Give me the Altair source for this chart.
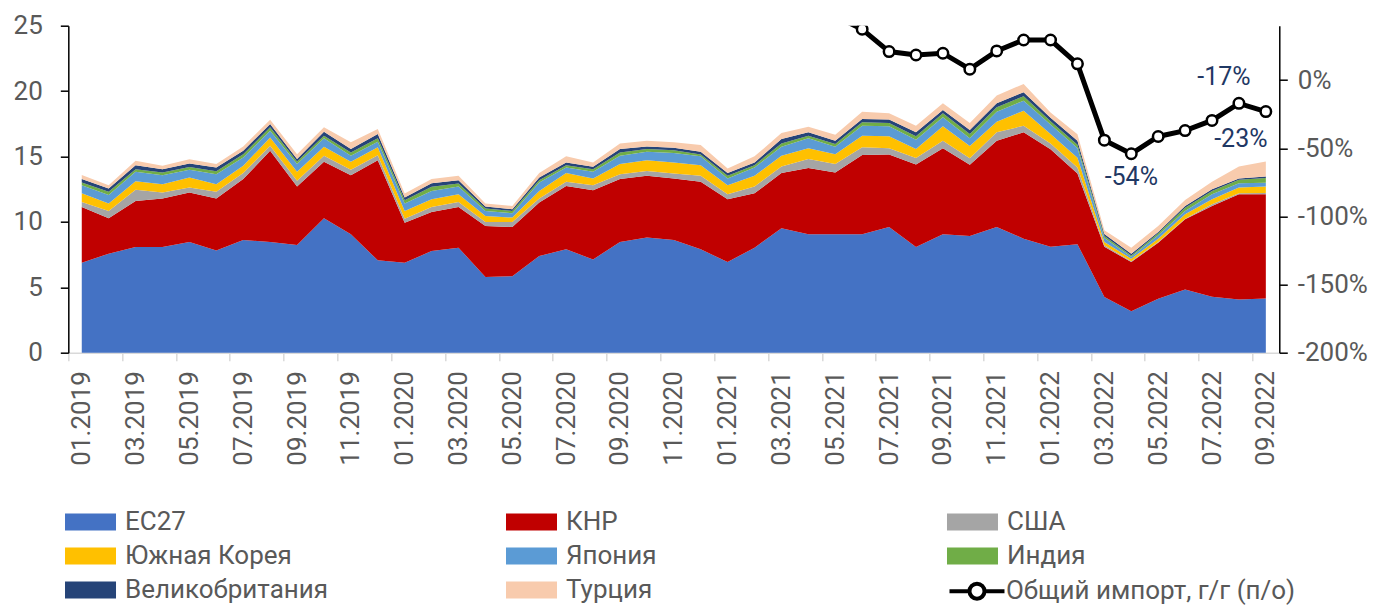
import altair as alt
import pandas as pd

MONTHS = ["01.2019", "02.2019", "03.2019", "04.2019", "05.2019", "06.2019", "07.2019", "08.2019",
          "09.2019", "10.2019", "11.2019", "12.2019", "01.2020", "02.2020", "03.2020", "04.2020",
          "05.2020", "06.2020", "07.2020", "08.2020", "09.2020", "10.2020", "11.2020", "12.2020",
          "01.2021", "02.2021", "03.2021", "04.2021", "05.2021", "06.2021", "07.2021", "08.2021",
          "09.2021", "10.2021", "11.2021", "12.2021", "01.2022", "02.2022", "03.2022", "04.2022",
          "05.2022", "06.2022", "07.2022", "08.2022", "09.2022"]

SERIES = ["ЕС27", "КНР", "США", "Южная Корея", "Япония", "Индия", "Великобритания", "Турция"]
COLORS = ["#4472C4", "#C00000", "#A5A5A5", "#FFC000", "#5B9BD5", "#70AD47", "#264478", "#F8CBAD"]

EU = [6.88, 7.57, 8.08, 8.08, 8.46, 7.82, 8.61, 8.46, 8.23, 10.28, 9.05, 7.06, 6.88, 7.77, 8.03,
      5.78, 5.85, 7.39, 7.90, 7.13, 8.46, 8.80, 8.61, 7.90, 6.93, 8.03, 9.51, 9.05, 9.05, 9.05,
      9.61, 8.08, 9.05, 8.92, 9.61, 8.72, 8.10, 8.30, 4.25, 3.17, 4.12, 4.83, 4.27, 4.06, 4.14]
CN = [4.26, 2.71, 3.52, 3.70, 3.79, 3.96, 4.66, 6.98, 4.47, 4.31, 4.52, 7.66, 3.06, 2.99, 3.11,
      3.91, 3.76, 4.09, 4.85, 5.29, 4.81, 4.72, 4.71, 5.16, 4.80, 4.16, 4.22, 5.08, 4.73, 6.06,
      5.55, 6.31, 6.59, 5.44, 6.59, 8.13, 7.45, 5.40, 3.85, 3.76, 4.29, 5.37, 6.95, 8.06, 7.98]
US = [0.39, 0.56, 0.85, 0.47, 0.38, 0.52, 0.46, 0.38, 0.44, 0.46, 0.41, 0.38, 0.31, 0.38, 0.39,
      0.30, 0.38, 0.30, 0.31, 0.39, 0.38, 0.38, 0.38, 0.46, 0.39, 0.52, 0.51, 0.67, 0.64, 0.59,
      0.48, 0.49, 0.57, 0.51, 0.65, 0.50, 0.45, 0.45, 0.12, 0.07, 0.05, 0.05, 0.13, 0.07, 0.08]
KR = [0.66, 0.56, 0.66, 0.63, 0.77, 0.58, 0.56, 0.64, 0.69, 0.69, 0.61, 0.60, 0.59, 0.59, 0.59,
      0.46, 0.34, 0.59, 0.67, 0.51, 0.77, 0.82, 0.85, 0.82, 0.69, 0.81, 0.81, 0.84, 0.76, 0.89,
      0.90, 0.69, 1.10, 0.93, 0.81, 1.15, 0.72, 0.75, 0.25, 0.18, 0.26, 0.33, 0.38, 0.44, 0.50]
JP = [0.61, 0.66, 0.72, 0.69, 0.58, 0.77, 0.64, 0.51, 0.59, 0.65, 0.46, 0.43, 0.56, 0.64, 0.58,
      0.39, 0.33, 0.64, 0.43, 0.51, 0.63, 0.64, 0.71, 0.67, 0.51, 0.64, 0.70, 0.75, 0.57, 0.77,
      0.77, 0.71, 0.69, 0.59, 0.77, 0.77, 0.72, 0.75, 0.30, 0.15, 0.25, 0.26, 0.39, 0.33, 0.30]
IN = [0.21, 0.24, 0.20, 0.21, 0.21, 0.23, 0.25, 0.26, 0.20, 0.20, 0.26, 0.26, 0.26, 0.31, 0.24,
      0.18, 0.18, 0.18, 0.18, 0.20, 0.26, 0.21, 0.21, 0.15, 0.20, 0.18, 0.25, 0.20, 0.20, 0.25,
      0.25, 0.26, 0.30, 0.33, 0.33, 0.34, 0.26, 0.25, 0.15, 0.10, 0.16, 0.25, 0.25, 0.26, 0.35]
UK = [0.27, 0.25, 0.31, 0.25, 0.28, 0.28, 0.26, 0.25, 0.18, 0.31, 0.26, 0.33, 0.20, 0.28, 0.25,
      0.15, 0.13, 0.21, 0.21, 0.18, 0.26, 0.20, 0.20, 0.20, 0.21, 0.21, 0.33, 0.26, 0.26, 0.26,
      0.26, 0.31, 0.26, 0.30, 0.31, 0.31, 0.26, 0.30, 0.15, 0.13, 0.10, 0.13, 0.13, 0.10, 0.12]
TR = [0.30, 0.25, 0.33, 0.26, 0.31, 0.26, 0.33, 0.33, 0.38, 0.33, 0.51, 0.38, 0.31, 0.31, 0.33,
      0.23, 0.25, 0.33, 0.46, 0.34, 0.43, 0.43, 0.41, 0.51, 0.36, 0.46, 0.46, 0.43, 0.45, 0.56,
      0.48, 0.51, 0.51, 0.55, 0.59, 0.63, 0.41, 0.50, 0.30, 0.47, 0.46, 0.46, 0.56, 0.92, 1.15]

LINE_NAME = "Общий импорт, г/г (п/о)"
LINE_START = 28  # index of 05.2021
LINE_VALUES = [47.0, 37.4, 21.0, 18.5, 19.8, 8.1, 21.5, 29.5, 29.5, 12.0,
               -44.0, -54.0, -41.3, -37.0, -29.5, -17.0, -23.0]

LABEL_IDX = [39, 43, 44]
LABEL_TEXT = ["-54%", "-17%", "-23%"]

LEFT_TICKS = [0, 5, 10, 15, 20, 25]
RIGHT_TICKS = [-200, -150, -100, -50, 0]

# ---------------- data frames ----------------
all_vals = [EU, CN, US, KR, JP, IN, UK, TR]
rows = []
for k, (name, vals) in enumerate(zip(SERIES, all_vals)):
    for i, v in enumerate(vals):
        rows.append({"idx": i, "series": name, "k": k, "value": v})
df_area = pd.DataFrame(rows)

df_line = pd.DataFrame({
    "idx": list(range(LINE_START, LINE_START + len(LINE_VALUES))),
    "pct": LINE_VALUES,
    "name": [LINE_NAME] * len(LINE_VALUES),
})
df_lab = pd.DataFrame({
    "idx": LABEL_IDX,
    "pct": [LINE_VALUES[i - LINE_START] for i in LABEL_IDX],
    "text": LABEL_TEXT,
})

# ---------------- layout ----------------
W, H = 1211, 327
N = len(MONTHS)
HALF_BAND = W / N / 2
FONT = "Roboto"
GRAY = "#595959"

month_js = "[" + ",".join("'" + m + "'" for m in MONTHS) + "]"
x_scale = alt.Scale(domain=[-0.5, N - 0.5], nice=False, zero=False)
x_axis = alt.Axis(
    values=[i - 0.5 for i in range(0, N, 2)],
    labelExpr=month_js + "[round(datum.value + 0.5)]",
    labelAngle=270, labelOffset=HALF_BAND, labelPadding=10,
    labelFont=FONT, labelFontSize=26, labelColor=GRAY,
    labelOverlap=False, labelFlush=False, labelBound=False,
    tickSize=8, tickColor="#d9d9d9", tickWidth=1.5,
    domainColor="#d9d9d9", domainWidth=1.5, grid=False, title=None,
)
left_axis = alt.Axis(
    values=LEFT_TICKS, orient="left", labelFont=FONT, labelFontSize=26, labelColor=GRAY,
    labelPadding=18, tickSize=8, tickColor="black", tickWidth=1.5,
    domainColor="black", domainWidth=1.5, grid=False, title=None,
)
right_axis = alt.Axis(
    values=RIGHT_TICKS, orient="right", labelExpr="datum.value + '%'",
    labelFont=FONT, labelFontSize=26, labelColor=GRAY,
    labelPadding=10, tickSize=8, tickColor="black", tickWidth=1.5,
    domainColor="black", domainWidth=1.5, grid=False, title=None,
)
right_scale = alt.Scale(domain=[-200, 40], nice=False, zero=False)

# legend symbols: small nominal size (keeps rows compact), path drawn larger than its box
area = alt.Chart(df_area).mark_area(interpolate="linear", opacity=1).encode(
    x=alt.X("idx:Q", scale=x_scale, axis=x_axis),
    y=alt.Y("value:Q", stack="zero", scale=alt.Scale(domain=[0, 25], nice=False), axis=left_axis),
    color=alt.Color(
        "series:N",
        scale=alt.Scale(domain=SERIES, range=COLORS),
        legend=alt.Legend(
            title=None, orient="none", legendX=9.2, legendY=483.2, columns=3,
            direction="horizontal",
            columnPadding=177, rowPadding=8, gridAlign="all",
            symbolType="M-2.55,-0.85H2.55V0.85H-2.55Z", symbolSize=400, symbolStrokeWidth=0,
            symbolOpacity=1, labelFont=FONT, labelFontSize=26, labelColor=GRAY,
            labelOffset=21.5, labelLimit=400,
        ),
    ),
    order=alt.Order("k:Q", sort="ascending"),
)

line = alt.Chart(df_line).mark_line(strokeWidth=5, clip=True).encode(
    x=alt.X("idx:Q", scale=x_scale, axis=x_axis),
    y=alt.Y("pct:Q", scale=right_scale, axis=right_axis),
    stroke=alt.Stroke(
        "name:N",
        scale=alt.Scale(domain=[LINE_NAME], range=["black"]),
        legend=alt.Legend(
            title=None, orient="none", legendX=895.7, legendY=552.5,
            symbolType="M-2.75,0H-0.75M0.75,0H2.75M0.75,0A0.75,0.75,0,1,1,-0.75,0A0.75,0.75,0,1,1,0.75,0Z",
            symbolSize=400, symbolStrokeWidth=4, symbolFillColor="white",
            labelFont=FONT, labelFontSize=26, labelColor=GRAY, labelOffset=16, labelLimit=400,
        ),
    ),
)

points = alt.Chart(df_line).mark_point(
    shape="circle", filled=True, fill="white", stroke="black", strokeWidth=2.5,
    size=110, opacity=1, clip=True,
).encode(
    x=alt.X("idx:Q", scale=x_scale, axis=x_axis),
    y=alt.Y("pct:Q", scale=right_scale, axis=right_axis),
)

LABEL_OFFSETS = {39: (0, 23), 43: (-15, -26), 44: (-25, 27)}
label_layers = []
for i in LABEL_IDX:
    dx, dy = LABEL_OFFSETS[i]
    label_layers.append(
        alt.Chart(df_lab).transform_filter(alt.datum.idx == i).mark_text(
            font=FONT, fontSize=25, color="#1F3864", align="center", baseline="middle",
            dx=dx, dy=dy,
        ).encode(
            x=alt.X("idx:Q", scale=x_scale, axis=x_axis),
            y=alt.Y("pct:Q", scale=right_scale, axis=right_axis),
            text="text:N",
        )
    )

right_part = alt.layer(line, points, *label_layers)

chart = alt.layer(area, right_part).resolve_scale(y="independent").properties(
    width=W, height=H,
    autosize=alt.AutoSizeParams(type="none"),
    padding={"left": 60.3, "top": 17.7, "right": 95, "bottom": 252},
    background="white",
).configure_view(stroke=None)

chart.save("out.html", embed_options={"renderer": "svg", "actions": False})
